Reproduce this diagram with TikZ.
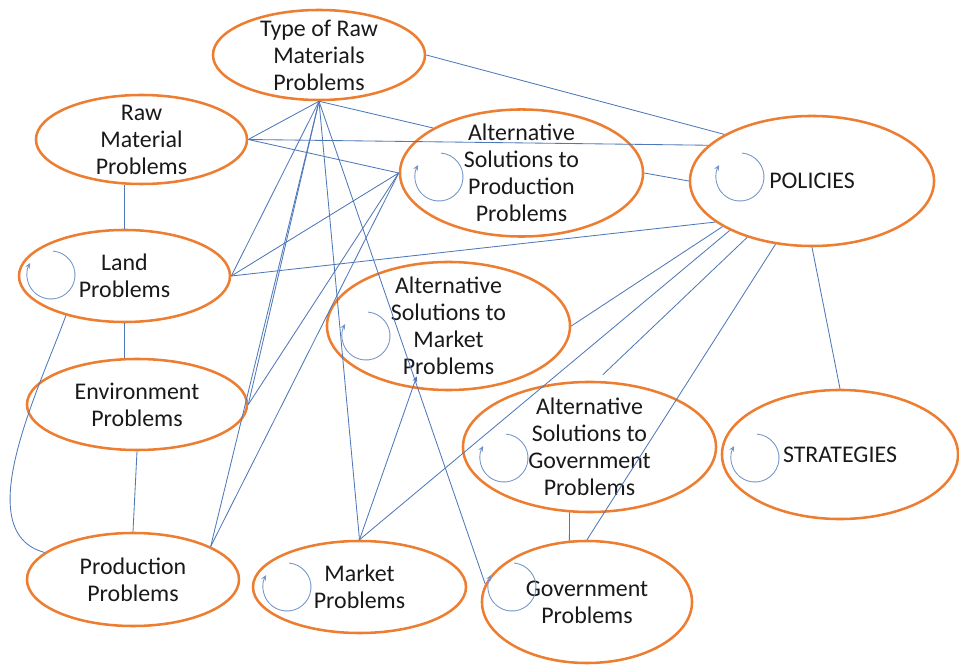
\documentclass[tikz,border=0pt]{standalone}
\usepackage{fontspec}
\setmainfont{Carlito}
\usetikzlibrary{shapes.geometric,arrows.meta}

\definecolor{bubbleorange}{RGB}{237,125,49}
\definecolor{linkblue}{RGB}{79,120,185}

\begin{document}
\begin{tikzpicture}[x=0.025cm,y=0.025cm,
    bubble/.style 2 args={ellipse,draw=bubbleorange,line width=1.8pt,minimum width=#1,minimum height=#2,
        inner xsep=0pt,inner ysep=-0.5cm,align=center,text=black!90,font=\fontsize{17pt}{19.2pt}\selectfont},
    link/.style={draw=linkblue,line width=0.6pt},
    selfloop/.style={draw=linkblue!80,line width=0.6pt,-{Stealth[length=4pt,width=3.5pt]}}]
    \pgfmathsetmacro{\loopradius}{0.6}
    \useasboundingbox (0,0) rectangle (959,664);
    \node[bubble={5.3cm}{2.25cm}] (typeraw) at (319,609) {Type of Raw\\Materials\\Problems};
    \node[bubble={5.275cm}{2.225cm}] (rawmat) at (141.5,524.5) {Raw\\Material\\Problems};
    \node[bubble={6.075cm}{3.175cm}] (altprod) at (521.5,491) {Alternative\\Solutions to\\Production\\Problems};
    \node[bubble={6.1cm}{3.25cm}] (policies) at (812,483) {POLICIES};
    \node[bubble={5.275cm}{2.3cm}] (land) at (124.5,388) {Land\\Problems};
    \node[bubble={6.075cm}{3.2cm}] (altmarket) at (448.5,338) {Alternative\\Solutions to\\Market\\Problems};
    \node[bubble={5.5cm}{2.275cm}] (env) at (137,259.5) {Environment\\Problems};
    \node[bubble={6.325cm}{3.25cm}] (altgov) at (589.5,217) {Alternative\\Solutions to\\Government\\Problems};
    \node[bubble={5.9cm}{3.225cm}] (strategies) at (840,209.5) {STRATEGIES};
    \node[bubble={5.3cm}{2.325cm}] (prod) at (133,84.5) {Production\\Problems};
    \node[bubble={5.325cm}{2.3cm}] (market) at (359.5,77) {Market\\Problems};
    \node[bubble={5.25cm}{3.05cm}] (govt) at (587,62) {Government\\Problems};
    % self loops
    \foreach \lx/\ly in {439/487, 740/487, 51/389, 366/328, 504/206, 755/206, 287/77, 512/77}
        \draw[selfloop] (\lx,\ly) ++(85:\loopradius cm) arc[start angle=85, end angle=-210, radius=\loopradius cm];
    % links
    \draw[link] (typeraw.south) -- (rawmat.east);
    \draw[link] (typeraw.south) -- (land.east);
    \draw[link] (typeraw.south) -- (env.east);
    \draw[link] (typeraw.south) -- (prod.23);
    \draw[link] (typeraw.south) -- (market.north);
    \draw[link] (typeraw.south) -- (govt.170);
    \draw[link] (typeraw.south) -- (altprod.153);
    \draw[link] (typeraw.east) -- (policies.152);
    \draw[link] (rawmat.east) -- (policies.161);
    \draw[link] (rawmat.east) -- (altprod.west);
    \draw[link] (land.east) -- (altprod.west);
    \draw[link] (env.east) -- (altprod.west);
    \draw[link] (prod.23) -- (altprod.west);
    \draw[link] (land.east) -- (policies.203);
    \draw[link] (altprod.east) -- (policies.west);
    \draw[link] (policies.207) -- (altmarket.east);
    \draw[link] (policies.211) -- (market.north);
    \draw[link,shorten >=0.22cm] (policies.221) -- (altgov.84);
    \draw[link] (policies.240) -- (govt.north);
    \draw[link] (policies.south) -- (strategies.north);
    \draw[link,-{Stealth[length=4pt,width=3.5pt]},shorten >=-0.32cm] (market.north) -- (altmarket.240);
    \draw[link] (altgov.253) -- (govt.106);
    \draw[link] (land.north) -- (land.north |- rawmat.south);
    \draw[link] (land.south) -- (land.south |- env.north);
    \draw[link] (env.south) -- (prod.north);
    \draw[link] (land.214) to[out=250,in=165,looseness=0.85] (prod.163);
\end{tikzpicture}
\end{document}
